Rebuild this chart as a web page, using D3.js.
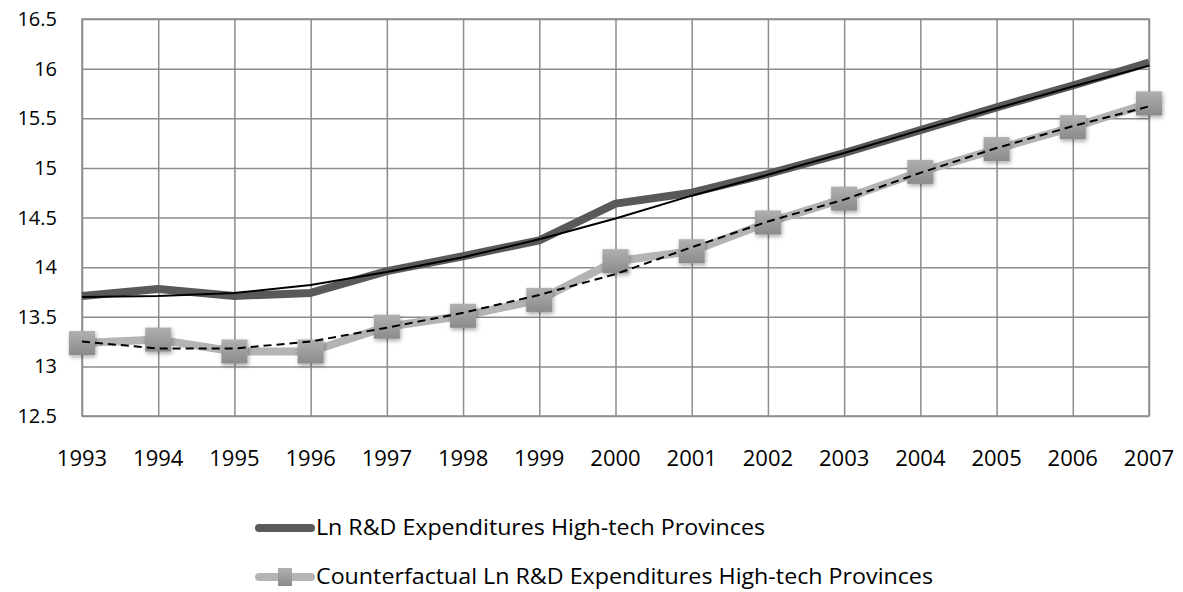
<!DOCTYPE html>
<html>
<head>
<meta charset="utf-8">
<script src="https://cdn.jsdelivr.net/npm/d3@7"></script>
<style>
  body { margin: 0; background: #fff; }
  svg text { font-family: "Open Sans", sans-serif; fill: #000; }
  .grid line, .grid path { stroke: #8c8c8c; stroke-width: 1.5; }
</style>
</head>
<body>
<svg width="1183" height="592"></svg>
<script>
// ---- data ----
let years = [1993, 1994, 1995, 1996, 1997, 1998, 1999, 2000, 2001, 2002, 2003, 2004, 2005, 2006, 2007];
let actual = [13.71, 13.78, 13.71, 13.74, 13.96, 14.11, 14.27, 14.64, 14.75, 14.94, 15.15, 15.38, 15.61, 15.83, 16.06];
let actualTrend = [13.70, 13.71, 13.74, 13.82, 13.95, 14.10, 14.28, 14.49, 14.72, 14.93, 15.15, 15.38, 15.60, 15.82, 16.03];
let counter = [13.235, 13.27, 13.15, 13.15, 13.40, 13.51, 13.67, 14.06, 14.16, 14.45, 14.69, 14.96, 15.19, 15.41, 15.65];
let counterTrend = [13.25, 13.18, 13.18, 13.25, 13.39, 13.54, 13.72, 13.93, 14.20, 14.46, 14.68, 14.95, 15.20, 15.42, 15.62];
let yTicks = [12.5, 13, 13.5, 14, 14.5, 15, 15.5, 16, 16.5];
let legendNames = ["Ln R&D Expenditures High-tech Provinces", "Counterfactual Ln R&D Expenditures High-tech Provinces"];

let svg = d3.select("svg"),
    margin = {top: 19, left: 82, right: 34, bottom: 176},
    width = +svg.attr("width") - margin.left - margin.right,
    height = +svg.attr("height") - margin.top - margin.bottom;

let x = d3.scaleLinear().domain([1993, 2007]).range([0, width]),
    y = d3.scaleLinear().domain([12.5, 16.5]).range([height, 0]);

// drop shadow for the square markers
let defs = svg.append("defs");
defs.append("filter").attr("id", "shadow")
    .attr("x", "-50%").attr("y", "-50%").attr("width", "200%").attr("height", "200%")
  .append("feDropShadow")
    .attr("dx", 1).attr("dy", 2).attr("stdDeviation", 2)
    .attr("flood-color", "#000").attr("flood-opacity", 0.35);
let grad = defs.append("linearGradient").attr("id", "mk").attr("x1", 0).attr("y1", 0).attr("x2", 0).attr("y2", 1);
grad.append("stop").attr("offset", "0%").attr("stop-color", "#b0b0b0");
grad.append("stop").attr("offset", "100%").attr("stop-color", "#8a8a8a");

let g = svg.append("g").attr("transform", "translate(" + margin.left + "," + margin.top + ")");

// grid + axes
g.append("g").attr("class", "grid")
  .call(d3.axisLeft(y).tickValues(yTicks).tickSize(-width).tickFormat(""))
  .call(a => a.select(".domain").remove());
g.append("g").attr("class", "grid")
  .attr("transform", "translate(0," + height + ")")
  .call(d3.axisBottom(x).tickValues(years).tickSize(-height).tickFormat(""))
  .call(a => a.select(".domain").remove());
g.append("rect").attr("width", width).attr("height", height)
  .attr("fill", "none").attr("stroke", "#8c8c8c").attr("stroke-width", 1.5);

yTicks.forEach(function(t) {
  g.append("text").attr("x", -25).attr("y", y(t)).attr("dy", "0.35em")
    .attr("text-anchor", "end").attr("font-size", 20).text(t);
});
years.forEach(function(yr) {
  g.append("text").attr("x", x(yr)).attr("y", height + 50)
    .attr("text-anchor", "middle").attr("font-size", 22).text(yr);
});

let line = d3.line().x((d, i) => x(years[i])).y(d => y(d));

// counterfactual series
g.append("path").datum(counter).attr("d", line)
  .attr("fill", "none").attr("stroke", "#b4b4b4").attr("stroke-width", 8).attr("stroke-linejoin", "round");
g.selectAll(".mk").data(counter).enter().append("rect")
  .attr("class", "mk")
  .attr("x", (d, i) => x(years[i]) - 13).attr("y", d => y(d) - 12)
  .attr("width", 26).attr("height", 24)
  .attr("fill", "url(#mk)").attr("filter", "url(#shadow)");

// actual series
g.append("path").datum(actual).attr("d", line)
  .attr("fill", "none").attr("stroke", "#595959").attr("stroke-width", 8).attr("stroke-linejoin", "round");

// trend lines
g.append("path").datum(actualTrend).attr("d", line)
  .attr("fill", "none").attr("stroke", "#000").attr("stroke-width", 2);
g.append("path").datum(counterTrend).attr("d", line)
  .attr("fill", "none").attr("stroke", "#000").attr("stroke-width", 2).attr("stroke-dasharray", "8,5");

// legend
let lg = svg.append("g");
let l1 = 528, l2 = 577;
lg.append("line").attr("x1", 259).attr("x2", 311).attr("y1", l1).attr("y2", l1)
  .attr("stroke", "#595959").attr("stroke-width", 8).attr("stroke-linecap", "round");
lg.append("text").attr("x", 316).attr("y", l1).attr("dy", "0.35em").attr("font-size", 21)
  .attr("textLength", 449).attr("lengthAdjust", "spacingAndGlyphs").text(legendNames[0]);
lg.append("line").attr("x1", 259).attr("x2", 311).attr("y1", l2).attr("y2", l2)
  .attr("stroke", "#b4b4b4").attr("stroke-width", 8).attr("stroke-linecap", "round");
lg.append("rect").attr("x", 278).attr("y", l2 - 9).attr("width", 14).attr("height", 18)
  .attr("fill", "url(#mk)");
lg.append("text").attr("x", 316).attr("y", l2).attr("dy", "0.35em").attr("font-size", 21)
  .attr("textLength", 617).attr("lengthAdjust", "spacingAndGlyphs").text(legendNames[1]);
</script>
</body>
</html>
